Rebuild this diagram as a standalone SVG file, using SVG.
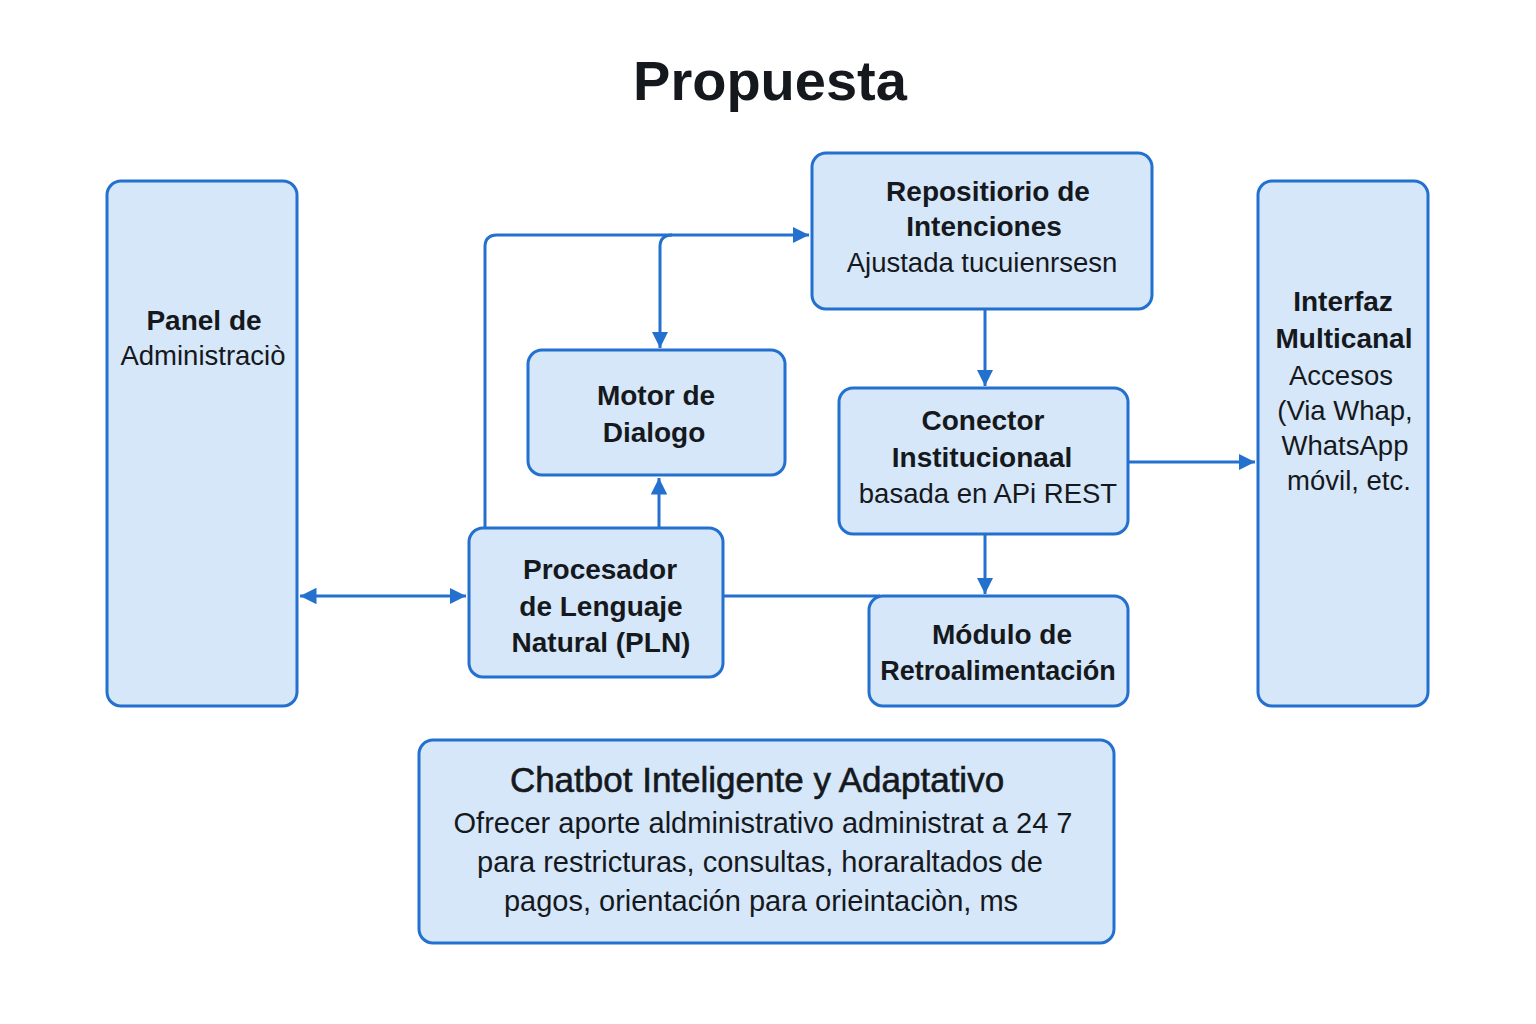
<svg xmlns="http://www.w3.org/2000/svg" width="1536" height="1024" viewBox="0 0 1536 1024">
<defs>
<style>
.box{fill:#d5e7f8;stroke:#2370cf;stroke-width:3}
.ln{fill:none;stroke:#2370cf;stroke-width:3}
text{font-family:"Liberation Sans",Arial,sans-serif;fill:#15191e;text-anchor:middle}
.t{font-size:28px;font-weight:bold}
.s{font-size:27.5px}
.b{font-size:29px}
.title{font-size:56px;font-weight:bold}
</style>
<marker id="ah" viewBox="0 0 10 10" refX="10" refY="5" markerWidth="5.5" markerHeight="5.5" markerUnits="strokeWidth" orient="auto-start-reverse">
<path d="M0,0 L10,5 L0,10 z" fill="#2370cf"/>
</marker>
</defs>
<rect width="1536" height="1024" fill="#ffffff"/>
<text class="title" x="770" y="100">Propuesta</text>

<g id="connectors">
<line class="ln" x1="300" y1="596" x2="466" y2="596" marker-start="url(#ah)" marker-end="url(#ah)"/>
<path class="ln" d="M485,528 V247 Q485,235 497,235 H809" marker-end="url(#ah)"/>
<path class="ln" d="M672,235 Q660,235 660,247 V348" marker-end="url(#ah)"/>
<line class="ln" x1="659" y1="528" x2="659" y2="478" marker-end="url(#ah)"/>
<line class="ln" x1="985" y1="310" x2="985" y2="386" marker-end="url(#ah)"/>
<line class="ln" x1="985" y1="535" x2="985" y2="594" marker-end="url(#ah)"/>
<line class="ln" x1="1129" y1="462" x2="1255" y2="462" marker-end="url(#ah)"/>
<line class="ln" x1="723" y1="596" x2="880" y2="596"/>
</g>

<g id="panel">
<rect class="box" x="107" y="181" width="190" height="525" rx="14"/>
<text class="t" x="204" y="330">Panel de</text>
<text class="s" x="203" y="365">Administraciò</text>
</g>

<g id="repositorio">
<rect class="box" x="812" y="153" width="340" height="156" rx="14"/>
<text class="t" x="988" y="201">Repositiorio de</text>
<text class="t" x="984" y="236">Intenciones</text>
<text class="s" x="982" y="272">Ajustada tucuienrsesn</text>
</g>

<g id="motor">
<rect class="box" x="528" y="350" width="257" height="125" rx="14"/>
<text class="t" x="656" y="405">Motor de</text>
<text class="t" x="654" y="442">Dialogo</text>
</g>

<g id="conector">
<rect class="box" x="839" y="388" width="289" height="146" rx="14"/>
<text class="t" x="983" y="430">Conector</text>
<text class="t" x="982" y="467">Institucionaal</text>
<text class="s" x="988" y="503">basada en APi REST</text>
</g>

<g id="procesador">
<rect class="box" x="469" y="528" width="254" height="149" rx="14"/>
<text class="t" x="600" y="579">Procesador</text>
<text class="t" x="601" y="616">de Lenguaje</text>
<text class="t" x="601" y="652">Natural (PLN)</text>
</g>

<g id="modulo">
<rect class="box" x="869" y="596" width="259" height="110" rx="14"/>
<text class="t" x="1002" y="644">Módulo de</text>
<text class="t" x="998" y="680" style="font-size:27px">Retroalimentación</text>
</g>

<g id="interfaz">
<rect class="box" x="1258" y="181" width="170" height="525" rx="14"/>
<text class="t" x="1343" y="311">Interfaz</text>
<text class="t" x="1344" y="348">Multicanal</text>
<text class="s" x="1341" y="385">Accesos</text>
<text class="s" x="1345" y="420">(Via Whap,</text>
<text class="s" x="1345" y="455">WhatsApp</text>
<text class="s" x="1349" y="490">móvil, etc.</text>
</g>

<g id="chatbot">
<rect class="box" x="419" y="740" width="695" height="203" rx="14"/>
<text x="757" y="792" style="font-size:35px;stroke:#15191e;stroke-width:0.6">Chatbot Inteligente y Adaptativo</text>
<text class="b" x="763" y="833">Ofrecer aporte aldministrativo administrat a 24 7</text>
<text class="b" x="760" y="872">para restricturas, consultas, horaraltados de</text>
<text class="b" x="761" y="911">pagos, orientación para orieintaciòn, ms</text>
</g>
</svg>
